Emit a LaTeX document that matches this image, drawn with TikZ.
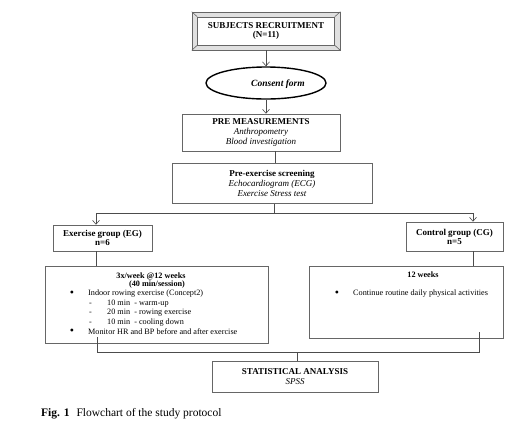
\documentclass[tikz,border=0pt]{standalone}
\usepackage{fontspec}
\setmainfont{Liberation Serif}
\usetikzlibrary{shapes.geometric, arrows.meta}

\begin{document}
\begin{tikzpicture}[x=1pt, y=-1pt,
	box/.style={shape=rectangle, draw=black!60, line width=0.6pt, align=center, inner sep=0pt, font=\fontsize{9}{9.8}\selectfont},
	wire/.style={draw=black!70, line width=0.6pt},
	arrow/.style={wire, -{Straight Barb[length=4pt, width=7pt]}},
	small/.style={anchor=west, inner sep=0pt, font=\fontsize{8.2}{9}\selectfont},
	dot/.style={anchor=center, inner sep=0pt, font=\fontsize{12}{12}\selectfont}]
	\useasboundingbox (0, 0) rectangle (517, 424);
	% Boxes:
	\node[box, fill=black!12, minimum width=148pt, minimum height=38pt] (recruit) at (266, 31){};
	\node[box, fill=white, minimum width=137pt, minimum height=28pt, font=\bfseries\fontsize{9}{8.5}\selectfont] (recruitin) at (266, 31){SUBJECTS RECRUITMENT\\(N=11)};
	\foreach \c in {north west, north east, south west, south east}
		\draw[black!60, line width=0.6pt] (recruit.\c) -- (recruitin.\c);
	\node[shape=ellipse, draw, line width=1.4pt, minimum width=120pt, minimum height=32pt] (consent) at (266, 83){};
	\node[inner sep=0pt, font=\bfseries\itshape\fontsize{9.5}{9.5}\selectfont] (consenttext) at (278, 84){Consent form};
	\node[box, minimum width=158pt, minimum height=37pt] (pre) at (261, 132.5){\textbf{PRE MEASUREMENTS}\\\textit{Anthropometry}\\\textit{Blood investigation}};
	\node[box, minimum width=200pt, minimum height=40pt] (screen) at (272, 183.5){\textbf{Pre-exercise screening}\\\textit{Echocardiogram (ECG)}\\\textit{Exercise Stress test}};
	\node[box, minimum width=99pt, minimum height=26pt, font=\bfseries\fontsize{9}{9}\selectfont] (eg) at (102.5, 238){Exercise group (EG)\\n=6};
	\node[box, minimum width=97pt, minimum height=29pt, font=\bfseries\fontsize{9}{9}\selectfont] (cg) at (454.5, 236.5){Control group (CG)\\n=5};
	\node[box, minimum width=223pt, minimum height=77pt] (egplan) at (156.5, 304.5){};
	\node[box, minimum width=194pt, minimum height=72pt] (cgplan) at (406, 302){};
	\node[box, minimum width=166pt, minimum height=31pt] (stat) at (295, 376.5){\textbf{STATISTICAL ANALYSIS}\\\textit{SPSS}};
	% Plan texts:
	\node[small, anchor=center, font=\bfseries\fontsize{8.2}{9}\selectfont] (egweeks) at (151, 276){3x/week @12 weeks};
	\node[small, anchor=center, font=\bfseries\fontsize{8.2}{9}\selectfont] (egsession) at (157, 285){(40 min/session)};
	\node[dot] (egbulleta) at (72, 294){\textbullet};
	\node[small] (egrowing) at (88, 294){Indoor rowing exercise (Concept2)};
	\foreach \y/\t in {304/10 min~~- warm-up, 313/20 min~~- rowing exercise, 323/10 min~~- cooling down}{
		\node[small] at (89, \y){-};
		\node[small] at (107, \y){\t};
	}
	\node[dot] (egbulletb) at (72, 332){\textbullet};
	\node[small] (egmonitor) at (88, 332){Monitor HR and BP before and after exercise};
	\node[small, anchor=center, font=\bfseries\fontsize{8.2}{9}\selectfont] (cgweeks) at (423, 275){12 weeks};
	\node[dot] (cgbullet) at (337, 294){\textbullet};
	\node[small] (cgroutine) at (353, 294){Continue routine daily physical activities};
	% Wires:
	\coordinate (split) at (274, 213);
	\coordinate (egtop) at (96, 213);
	\coordinate (cgtop) at (473, 213);
	\coordinate (egend) at (97, 337);
	\coordinate (cgend) at (479, 332);
	\coordinate (join) at (297, 352);
	\draw[arrow] (recruit.south) -- (consent.north);
	\draw[arrow] (consent.south) -- (consent.south |- pre.north);
	\draw[wire] ([xshift=14pt]pre.south) -- ([xshift=14pt]pre.south |- screen.north);
	\draw[wire] (screen.south -| split) -- (split);
	\draw[wire] (egtop) -- (cgtop);
	\draw[arrow] (egtop) -- (egtop |- eg.north);
	\draw[arrow] (cgtop) -- (cgtop |- cg.north);
	\draw[wire] (eg.south -| egtop) -- (egtop |- egplan.north);
	\draw[wire] (cg.south -| cgtop) -- (cgtop |- cgplan.north);
	\draw[wire] (egend) -- (egend |- join) -- (cgend |- join) -- (cgend);
	\draw[wire] (join) -- (join |- stat.north);
	% Caption:
	\node[anchor=west, inner sep=0pt, font=\fontsize{11.5}{12}\selectfont] (caption) at (41, 414){\textbf{Fig. 1}\hspace{0.6em}Flowchart of the study protocol};
\end{tikzpicture}
\end{document}
